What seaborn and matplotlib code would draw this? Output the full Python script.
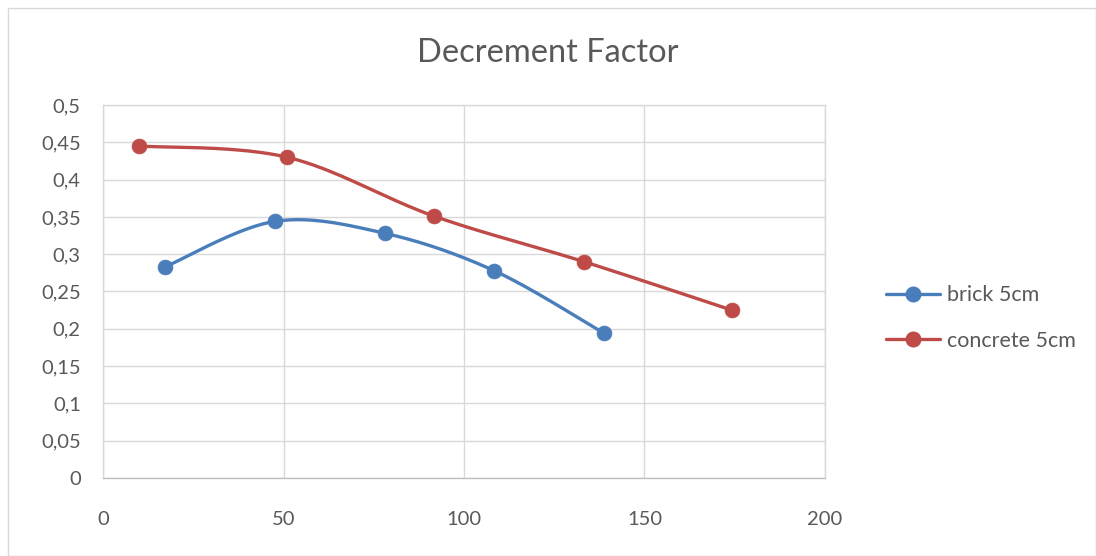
import numpy as np
import pandas as pd
import matplotlib
matplotlib.use("Agg")
import matplotlib.pyplot as plt
from matplotlib.lines import Line2D
from matplotlib.ticker import FuncFormatter, MultipleLocator
import seaborn as sns

# Series data
brick_x = [17.2, 47.6, 78.1, 108.3, 138.8]
brick_y = [0.283, 0.344, 0.328, 0.278, 0.194]
concrete_x = [10.0, 51.0, 91.7, 133.2, 174.2]
concrete_y = [0.445, 0.430, 0.351, 0.290, 0.225]
series_names = ["brick 5cm", "concrete 5cm"]
colors = ["#4A7EBB", "#BE4B48"]
title = "Decrement Factor"

sns.set_theme(style="white")
plt.rcParams["font.family"] = ["Lato", "DejaVu Sans"]

X_MAX, Y_MAX = 200, 0.5
AX_W, AX_H = 722, 373  # axes box in pixels, used to smooth in screen space


def smooth(xs, ys, n=40):
    """Bezier smoothing through the points (control points at 1/6 of neighbour spans)."""
    p = np.column_stack([np.array(xs) / X_MAX * AX_W, np.array(ys) / Y_MAX * AX_H])
    out = []
    for i in range(len(p) - 1):
        p0 = p[i - 1] if i > 0 else p[i]
        p1, p2 = p[i], p[i + 1]
        p3 = p[i + 2] if i + 2 < len(p) else p[i + 1]
        c1 = p1 + (p2 - p0) / 6
        c2 = p2 - (p3 - p1) / 6
        t = np.linspace(0, 1, n)[:, None]
        seg = ((1 - t) ** 3) * p1 + 3 * ((1 - t) ** 2) * t * c1 + 3 * (1 - t) * t ** 2 * c2 + t ** 3 * p2
        out.append(seg if i == 0 else seg[1:])
    s = np.vstack(out)
    return s[:, 0] / AX_W * X_MAX, s[:, 1] / AX_H * Y_MAX


fig = plt.figure(figsize=(10.96, 5.56), dpi=100)
ax = fig.add_axes([103 / 1096, 78 / 556, AX_W / 1096, AX_H / 556])

for name, xs, ys, c in zip(series_names, [brick_x, concrete_x], [brick_y, concrete_y], colors):
    sx, sy = smooth(xs, ys)
    curve = pd.DataFrame({"x": sx, "y": sy, "idx": np.arange(len(sx))})
    sns.lineplot(data=curve, x="x", y="y", sort=False, estimator=None, ax=ax,
                 color=c, linewidth=2.4, solid_capstyle="round")
    pts = pd.DataFrame({"x": xs, "y": ys})
    sns.scatterplot(data=pts, x="x", y="y", ax=ax, color=c, s=115,
                    edgecolor=c, linewidth=0.5, zorder=3)

ax.set_xlim(0, X_MAX)
ax.set_ylim(0, Y_MAX)
ax.xaxis.set_major_locator(MultipleLocator(50))
ax.yaxis.set_major_locator(MultipleLocator(0.05))
ax.yaxis.set_major_formatter(FuncFormatter(lambda v, _: f"{v:.2f}".rstrip("0").rstrip(".").replace(".", ",") if v else "0"))
ax.xaxis.set_major_formatter(FuncFormatter(lambda v, _: f"{v:.0f}"))
ax.grid(True, color="#D9D9D9", linewidth=1)
ax.set_axisbelow(True)
for side, sp in ax.spines.items():
    sp.set_visible(True)
    sp.set_color("#D9D9D9")
    sp.set_linewidth(1)
ax.spines["bottom"].set_color("#BFBFBF")
ax.tick_params(axis="both", length=0, labelsize=14.5, labelcolor="#595959")
ax.tick_params(axis="x", pad=24)
ax.tick_params(axis="y", pad=16)
ax.set_xlabel("")
ax.set_ylabel("")

fig.text(0.5, 0.905, title, ha="center", va="center", fontsize=23.5, color="#595959")

handles = [Line2D([0], [0], color=c, linewidth=2.4, marker="o", markersize=10.5)
           for c in colors]
fig.legend(handles, series_names, loc="center left", bbox_to_anchor=(0.791, 0.428),
           frameon=False, fontsize=15.5, labelcolor="#595959", handlelength=2.5,
           handletextpad=0.3, labelspacing=1.2)

# chart frame
fig.patches.append(plt.Rectangle((8 / 1096, 0), 1 - 8 / 1096, 1 - 8 / 556, transform=fig.transFigure,
                                 fill=False, edgecolor="#D9D9D9", linewidth=1))

fig.savefig("out.png", dpi=100)
